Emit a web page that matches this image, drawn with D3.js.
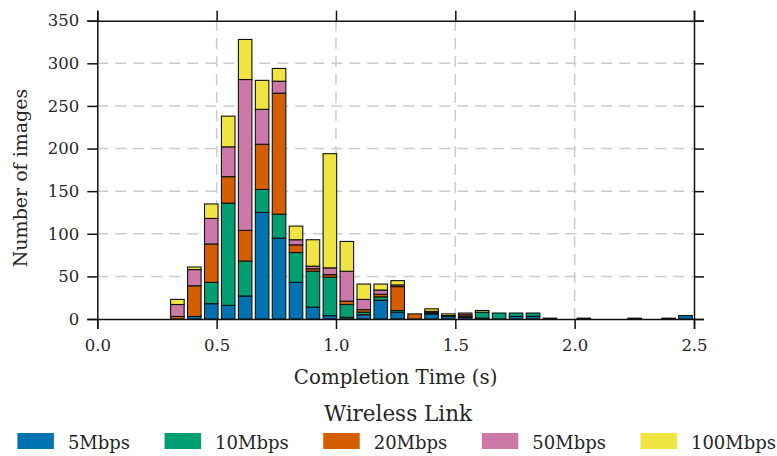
<!DOCTYPE html>
<html>
<head>
<meta charset="utf-8">
<script src="https://cdn.jsdelivr.net/npm/d3@7"></script>
<style>
  html, body { margin: 0; padding: 0; background: #fff; }
  svg { display: block; font-family: "DejaVu Serif", serif; }
</style>
</head>
<body>
<svg id="chart" width="777" height="456"></svg>
<script>
// ---- data ----
const binStarts = [0.300,0.371,0.442,0.513,0.584,0.655,0.726,0.797,0.868,0.939,
                   1.010,1.081,1.152,1.223,1.294,1.365,1.435,1.506,1.577,1.648,
                   1.719,1.790,1.861,1.932,2.003,2.074,2.145,2.216,2.287,2.358,2.429];
const seriesNames = ["5Mbps","10Mbps","20Mbps","50Mbps","100Mbps"];
const s5Mbps   = [0,3,18,16,27,125,95,43,14,4,2,5,22,8,0,6,3,2,1,0,3,3,1,0,1,0,0,1,0,1,4];
const s10Mbps  = [0,0,25,120,41,27,28,35,42,45,15,3,4,2,0,1,1,1,7,7,4,4,0,0,0,0,0,0,0,0,0];
const s20Mbps  = [3,36,45,31,36,53,142,9,3,3,4,3,3,28,6,1,0,2,0,0,0,0,0,0,0,0,0,0,0,0,0];
const s50Mbps  = [14,19,30,35,177,41,14,6,3,8,35,12,5,2,0,1,0,2,0,0,0,0,0,0,0,0,0,0,0,0,0];
const s100Mbps = [6,3,17,36,47,34,15,16,31,134,35,18,7,5,0,3,2,0,2,0,0,0,0,0,0,0,0,0,0,0,0];
const xTicks = [0.0,0.5,1.0,1.5,2.0,2.5];
const yTicks = [0,50,100,150,200,250,300,350];
const colors = ["#0072B2","#009E73","#D55E00","#CC79A7","#F0E442"];
const binWidth = 0.07097;

// ---- layout ----
const svg = d3.select("#chart");
const L = 97.3, R = 694, T = 20.7, B = 319;
const x = d3.scaleLinear().domain([0, 2.5]).range([L, R]);
const y = d3.scaleLinear().domain([0, 350]).range([B, T]);

const rows = binStarts.map((b, i) => ({
  start: b,
  "5Mbps": s5Mbps[i], "10Mbps": s10Mbps[i], "20Mbps": s20Mbps[i],
  "50Mbps": s50Mbps[i], "100Mbps": s100Mbps[i]
}));
const stacked = d3.stack().keys(seriesNames)(rows);
const color = d3.scaleOrdinal().domain(seriesNames).range(colors);

// grid
const grid = svg.append("g");
grid.selectAll("line.gy").data(yTicks.filter(t => t > 0 && t < 350)).join("line")
  .attr("x1", L).attr("x2", R).attr("y1", d => y(d)).attr("y2", d => y(d))
  .attr("stroke", "#cccccc").attr("stroke-width", 1.5).attr("stroke-dasharray", "11,7");
grid.selectAll("line.gx").data(xTicks.filter(t => t > 0 && t < 2.5)).join("line")
  .attr("y1", B).attr("y2", T).attr("x1", d => x(d)).attr("x2", d => x(d))
  .attr("stroke", "#cccccc").attr("stroke-width", 1.5).attr("stroke-dasharray", "11,7");

// bars
const bw = x(binWidth) - x(0);
const barG = svg.append("g");
stacked.forEach(layer => {
  barG.selectAll(null).data(layer).join("rect")
    .attr("x", d => x(d.data.start) + bw * 0.1)
    .attr("width", bw * 0.8)
    .attr("y", d => y(d[1]))
    .attr("height", d => Math.max(0, y(d[0]) - y(d[1])))
    .attr("fill", color(layer.key))
    .attr("stroke", "#111")
    .attr("stroke-width", 1.1);
});

// axes (ticks outward on all sides)
const tickSize = 10;
svg.append("g").attr("transform", `translate(0,${B})`)
  .call(d3.axisBottom(x).tickValues(xTicks).tickFormat(d3.format(".1f")).tickSize(tickSize).tickPadding(10));
svg.append("g").attr("transform", `translate(0,${T})`)
  .call(d3.axisTop(x).tickValues(xTicks).tickFormat("").tickSize(tickSize));
svg.append("g").attr("transform", `translate(${L},0)`)
  .call(d3.axisLeft(y).tickValues(yTicks).tickSize(tickSize).tickPadding(8));
svg.append("g").attr("transform", `translate(${R},0)`)
  .call(d3.axisRight(y).tickValues(yTicks).tickFormat("").tickSize(tickSize));
svg.selectAll(".domain").attr("stroke", "#111").attr("stroke-width", 1.5);
svg.selectAll(".tick line").attr("stroke", "#111").attr("stroke-width", 1.5);
svg.selectAll(".tick text").attr("font-family", "DejaVu Serif").attr("font-size", 16.5).attr("fill", "#262626");

// axis labels
svg.append("text").attr("x", (L + R) / 2).attr("y", 384).attr("text-anchor", "middle")
  .attr("font-size", 19.8).attr("fill", "#262626").text("Completion Time (s)");
svg.append("text").attr("transform", `translate(27,178) rotate(-90)`)
  .attr("text-anchor", "middle").attr("font-size", 19).attr("fill", "#262626").text("Number of images");

// legend
const lg = svg.append("g");
lg.append("text").attr("x", 398).attr("y", 421).attr("text-anchor", "middle")
  .attr("font-size", 21.5).attr("fill", "#262626").text("Wireless Link");
let cx = 17.4;
seriesNames.forEach((name, i) => {
  lg.append("rect").attr("x", cx).attr("y", 433).attr("width", 36.5).attr("height", 16)
    .attr("fill", colors[i]);
  const t = lg.append("text").attr("x", cx + 36.5 + 14).attr("y", 448.5)
    .attr("font-size", 18).attr("fill", "#262626").text(name);
  cx = cx + 36.5 + 14 + t.node().getComputedTextLength() + 34.5;
});
</script>
</body>
</html>
